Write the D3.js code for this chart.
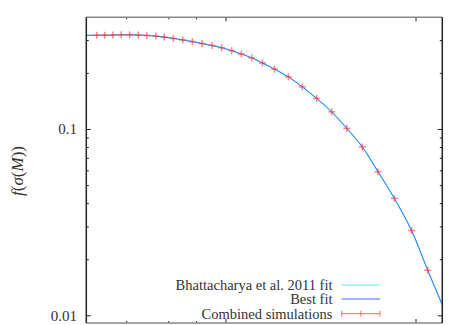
<!DOCTYPE html>
<html>
<head>
<meta charset="utf-8">
<script src="https://d3js.org/d3.v7.min.js"></script>
<style>
  body { margin: 0; background: #fff; }
  text { font-family: "Liberation Serif", "Times New Roman", "DejaVu Serif", serif; fill: #333; }
</style>
</head>
<body>
<div id="my_dataviz"></div>
<script>

// simulation points (x: sigma^-1, y: f(sigma))
var simX = [0.209, 0.230, 0.254, 0.281, 0.311, 0.345, 0.383, 0.427, 0.473, 0.528,
            0.592, 0.665, 0.748, 0.844, 0.949, 1.072, 1.204, 1.366, 1.556, 1.80,
            2.128, 2.52, 3.00, 3.60, 4.32, 5.22, 6.31, 7.69, 9.47, 11.52];
var simY = [0.3205, 0.3205, 0.3214, 0.3221, 0.3221, 0.3214, 0.3197, 0.3170, 0.3131, 0.3081,
            0.3025, 0.2962, 0.2893, 0.2823, 0.2748, 0.2648, 0.2542, 0.2423, 0.2275, 0.2107,
            0.1916, 0.1694, 0.1468, 0.1244, 0.1014, 0.0805, 0.0593, 0.0427, 0.0287, 0.01757];

// fit curves
var fitX = [0.184].concat(simX, [13.75]);
var bestFitY = [0.3200].concat(simY, [0.01145]);
var bhattY = [0.3200].concat(simY, [0.01145]);

var yTickMajor = [0.01, 0.1];
var yTickMinor = [0.02, 0.03, 0.04, 0.05, 0.06, 0.07, 0.08, 0.09, 0.2, 0.3];
var xTickMajor = [1, 10];
var xTickMinor = [0.3, 0.5, 0.7];

var legendLabels = ["Bhattacharya et al. 2011 fit", "Best fit", "Combined simulations"];

var W = 464, H = 325;
var mLeft = 86.3, mRight = 442.3, mTop = 17.3, mBottom = 323;

var svg = d3.select("#my_dataviz")
  .append("svg")
    .attr("width", W)
    .attr("height", H);

var x = d3.scaleLog().domain([0.184, 13.75]).range([mLeft, mRight]);
var y = d3.scaleLog().domain([0.00915, 0.4]).range([mBottom, mTop]);

// curves
var line = d3.line()
  .x(function(d) { return x(d[0]); })
  .y(function(d) { return y(d[1]); })
  .curve(d3.curveCatmullRom);

svg.append("path")
  .datum(d3.zip(fitX, bhattY))
  .attr("d", line)
  .attr("fill", "none")
  .attr("stroke", "#60e8ff")
  .attr("stroke-width", 1.6)
  .attr("stroke-opacity", 0.6);

svg.append("path")
  .datum(d3.zip(fitX, bestFitY))
  .attr("d", line)
  .attr("fill", "none")
  .attr("stroke", "#2a66ff")
  .attr("stroke-width", 1)
  .attr("stroke-opacity", 0.9);

// simulation points
var pts = svg.append("g")
  .attr("stroke", "#ff3535")
  .attr("stroke-opacity", 0.6)
  .attr("stroke-width", 1.5);
d3.zip(simX, simY).forEach(function(d) {
  var cx = x(d[0]), cy = y(d[1]);
  pts.append("line").attr("x1", cx - 3.5).attr("x2", cx + 3.5).attr("y1", cy).attr("y2", cy);
  pts.append("line").attr("x1", cx).attr("x2", cx).attr("y1", cy - 3.5).attr("y2", cy + 3.5);
});

// ticks (inward, on all sides)
var ticks = svg.append("g").attr("stroke", "#222").attr("stroke-width", 1);
yTickMajor.concat(yTickMinor).forEach(function(v) {
  var len = yTickMajor.indexOf(v) >= 0 ? 4.5 : 2.5;
  ticks.append("line").attr("x1", mLeft).attr("x2", mLeft + len).attr("y1", y(v)).attr("y2", y(v));
  ticks.append("line").attr("x1", mRight).attr("x2", mRight - len).attr("y1", y(v)).attr("y2", y(v));
});
xTickMajor.concat(xTickMinor).forEach(function(v) {
  var len = xTickMajor.indexOf(v) >= 0 ? 4 : 2;
  ticks.append("line").attr("x1", x(v)).attr("x2", x(v)).attr("y1", mTop).attr("y2", mTop + len);
  ticks.append("line").attr("x1", x(v)).attr("x2", x(v)).attr("y1", mBottom).attr("y2", mBottom - len);
});

// border
svg.append("line").attr("x1", mLeft).attr("x2", mRight).attr("y1", mTop).attr("y2", mTop)
  .attr("stroke", "#888").attr("stroke-width", 1.5);
svg.append("line").attr("x1", mLeft).attr("x2", mRight).attr("y1", mBottom).attr("y2", mBottom)
  .attr("stroke", "#888").attr("stroke-width", 1.5);
svg.append("line").attr("x1", mLeft).attr("x2", mLeft).attr("y1", mTop).attr("y2", mBottom)
  .attr("stroke", "#222").attr("stroke-width", 1.5);
svg.append("line").attr("x1", mRight).attr("x2", mRight).attr("y1", mTop).attr("y2", mBottom)
  .attr("stroke", "#222").attr("stroke-width", 1.5);

// y tick labels
svg.selectAll("ylab")
  .data(yTickMajor)
  .enter()
  .append("text")
    .attr("x", 77)
    .attr("y", function(d) { return y(d) + 5; })
    .attr("text-anchor", "end")
    .style("font-size", "15px")
    .text(function(d) { return d; });

// y axis label
var yl = svg.append("text")
  .attr("transform", "translate(23,171) rotate(-90)")
  .attr("text-anchor", "middle")
  .style("font-size", "17px");
yl.append("tspan").style("font-style", "italic").text("f");
yl.append("tspan").text("(");
yl.append("tspan").style("font-style", "italic").text("σ");
yl.append("tspan").text("(");
yl.append("tspan").style("font-style", "italic").text("M");
yl.append("tspan").text("))");

// legend
var legY = [285, 299, 313.7];
var lx1 = 341.7, lx2 = 380;
legendLabels.forEach(function(t, i) {
  svg.append("text")
    .attr("x", 332.5)
    .attr("y", legY[i] + 5)
    .attr("text-anchor", "end")
    .style("font-size", "14.5px")
    .text(t);
});
svg.append("line").attr("x1", lx1).attr("x2", lx2).attr("y1", legY[0]).attr("y2", legY[0])
  .attr("stroke", "#60e8ff").attr("stroke-width", 1);
svg.append("line").attr("x1", lx1).attr("x2", lx2).attr("y1", legY[1]).attr("y2", legY[1])
  .attr("stroke", "#4a5cff").attr("stroke-width", 1);
var eg = svg.append("g").attr("stroke", "#ff3535").attr("stroke-opacity", 0.6).attr("stroke-width", 1.2);
eg.append("line").attr("x1", lx1).attr("x2", lx2).attr("y1", legY[2]).attr("y2", legY[2]);
[lx1, (lx1 + lx2) / 2, lx2].forEach(function(px) {
  eg.append("line").attr("x1", px).attr("x2", px).attr("y1", legY[2] - 3).attr("y2", legY[2] + 3);
});

</script>
</body>
</html>
